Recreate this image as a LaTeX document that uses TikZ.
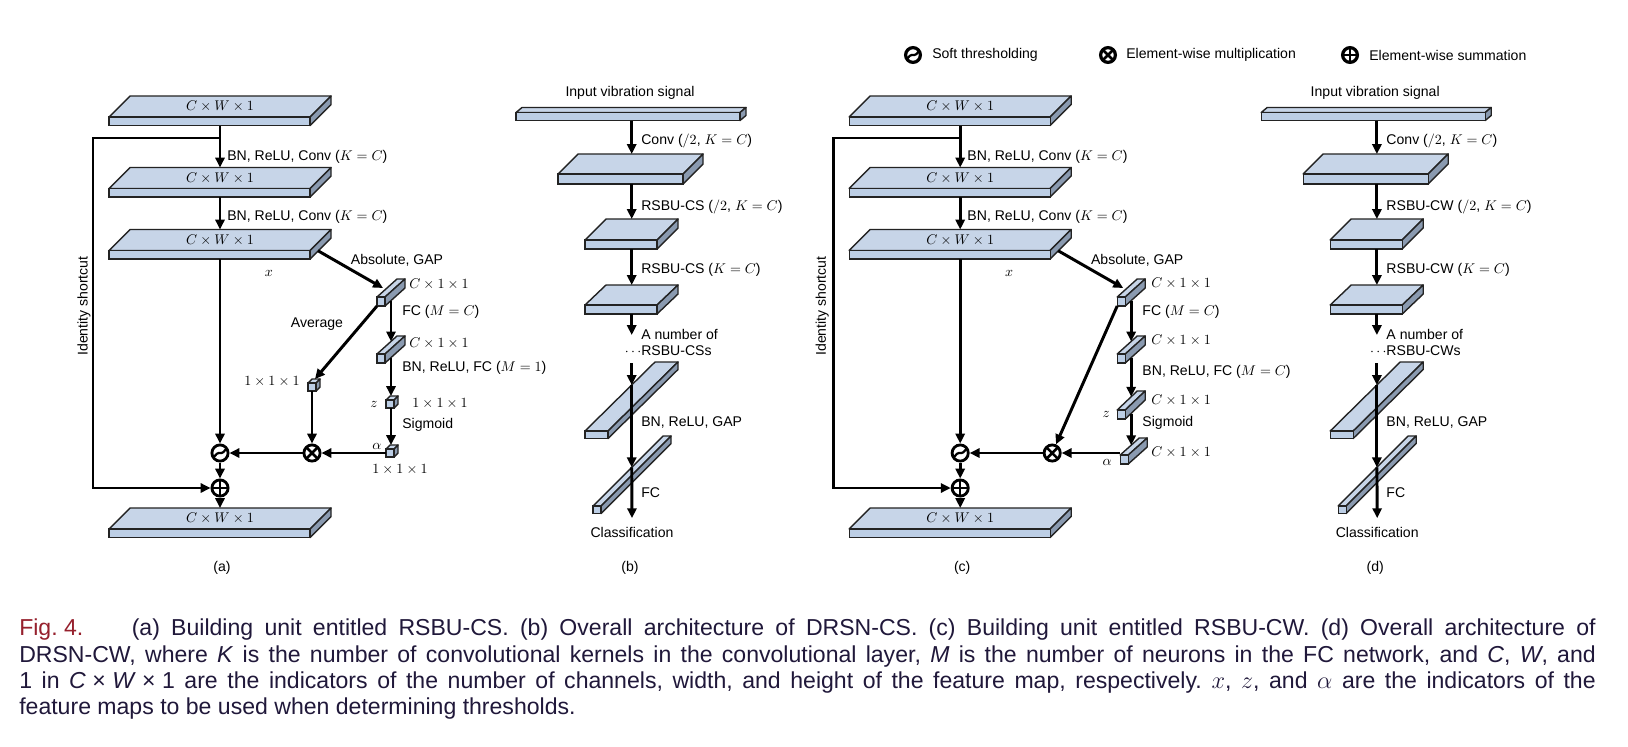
\documentclass[tikz,border=0pt]{standalone}
\usepackage{fontspec}
\setmainfont{Liberation Sans}
\newfontfamily\capfont{Liberation Sans}
\usetikzlibrary{arrows.meta,calc}

\definecolor{topc}{RGB}{199,213,232}
\definecolor{frontc}{RGB}{188,206,229}
\definecolor{sidec}{RGB}{138,154,176}
\definecolor{boxdraw}{RGB}{35,35,35}
\definecolor{capc}{RGB}{32,24,58}
\definecolor{figc}{RGB}{150,32,45}

% cuboid: name, x, y (front top left), width, height, depth x, depth y
\newcommand{\cuboid}[7]{%
  \filldraw[boxline, fill=topc] (#2,#3) -- (#2+#6,#3-#7) -- (#2+#4+#6,#3-#7) -- (#2+#4,#3) -- cycle;
  \filldraw[boxline, fill=sidec] (#2+#4,#3) -- (#2+#4+#6,#3-#7) -- (#2+#4+#6,#3+#5-#7) -- (#2+#4,#3+#5) -- cycle;
  \node[boxfront, minimum width=#4*0.025cm, minimum height=#5*0.025cm, anchor=north west] (#1) at (#2,#3) {};
  \coordinate (#1-b) at (#2+#6,#3-#7);
}

\tikzset{
  arr/.style={line width=2.1pt, -{Triangle[length=7pt,width=6.5pt]}},
  boxline/.style={draw=boxdraw, line width=1pt, line join=round},
  boxfront/.style={draw=boxdraw, fill=frontc, line width=1pt, inner sep=0pt, outer sep=0pt},
  lbl/.style={font=\fontsize{10}{12}\selectfont, inner sep=0pt},
  op/.style={circle, draw, fill=white, line width=2pt, minimum size=11.5pt, inner sep=0pt},
  opsum/.style={op, path picture={\draw[line width=1.8pt] (path picture bounding box.north) -- (path picture bounding box.south) (path picture bounding box.west) -- (path picture bounding box.east);}},
  opmul/.style={op, path picture={\draw[line width=1.8pt] (path picture bounding box.north west) -- (path picture bounding box.south east) (path picture bounding box.north east) -- (path picture bounding box.south west);}},
  opsoft/.style={op, path picture={\draw[line width=1.6pt, rounded corners=0.8pt] ([shift={(-8,6)}]path picture bounding box.center) -- ([shift={(-2.5,0)}]path picture bounding box.center) -- ([shift={(2.5,0)}]path picture bounding box.center) -- ([shift={(8,-6)}]path picture bounding box.center);}},
  capline/.style={font=\capfont\fontsize{16.4}{19}\selectfont\frenchspacing, text=capc, inner sep=0pt, anchor=base west},
}

\begin{document}
\begin{tikzpicture}[x=0.025cm, y=-0.025cm]
\useasboundingbox (0,0) rectangle (1628,746);
\fill[white] (0,0) rectangle (1628,746);

% legend
\node[opsoft, minimum size=10.5pt, line width=2.3pt] (lsoft) at (913,55) {};
\node[lbl, anchor=west] (lsoftl) at (932,55) {Soft thresholding};
\node[opmul, minimum size=10.5pt, line width=2.3pt] (lmul) at (1108,55) {};
\node[lbl, anchor=west] (lmull) at (1126,55) {Element-wise multiplication};
\node[opsum, minimum size=10.5pt, line width=2.3pt] (lsum) at (1350,55) {};
\node[lbl, anchor=west] (lsuml) at (1369,55) {Element-wise summation};

% (a) RSBU-CS
\cuboid{a1}{109}{117}{201}{8.5}{21}{21}
\cuboid{a2}{109}{188.5}{201}{8.5}{21}{21}
\cuboid{a3}{109}{250.5}{201}{8.5}{21}{21}
\cuboid{a4}{109}{529}{201}{8.5}{21}{21}
\cuboid{ab1}{377}{297}{8}{9}{20}{18}
\cuboid{ab2}{377}{354}{8}{9}{20}{18}
\cuboid{aavg}{308}{383}{8}{8}{4}{4}
\cuboid{az}{386}{400}{8}{8}{4}{4}
\cuboid{aal}{386}{449}{8}{8}{4}{4}
\node[lbl] (a1t) at (220,106.5) {$C\times W\times 1$};
\node[lbl] (a2t) at (220,178) {$C\times W\times 1$};
\node[lbl] (a3t) at (220,240) {$C\times W\times 1$};
\node[lbl] (a4t) at (220,518.5) {$C\times W\times 1$};
\node[opsoft] (asoft) at (220,453) {};
\node[opmul] (amul) at (312,453) {};
\node[opsum] (asum) at (220,488) {};
\coordinate (asplit) at (220,138);
\coordinate (asc) at (93,138);
\node[lbl, anchor=west] (aconv1) at (227,157) {BN, ReLU, Conv ($K=C$)};
\node[lbl, anchor=west] (aconv2) at (227,217) {BN, ReLU, Conv ($K=C$)};
\node[lbl] (aabs) at (397,260) {Absolute, GAP};
\node[lbl] (ax) at (269,273) {$x$};
\node[lbl, anchor=west] (ab1l) at (409,284) {$C\times 1\times 1$};
\node[lbl, anchor=west] (afc1) at (402,312) {FC ($M=C$)};
\node[lbl] (aavgl) at (317,324) {Average};
\node[lbl, anchor=west] (ab2l) at (409,343) {$C\times 1\times 1$};
\node[lbl, anchor=west] (afc2) at (402,368) {BN, ReLU, FC ($M=1$)};
\node[lbl, anchor=east] (aavgs) at (300,382) {$1\times 1\times 1$};
\node[lbl] (azl) at (374,404) {$z$};
\node[lbl, anchor=west] (azs) at (412,404) {$1\times 1\times 1$};
\node[lbl, anchor=west] (asig) at (402,425) {Sigmoid};
\node[lbl] (aall) at (377,446) {$\alpha$};
\node[lbl] (aals) at (400,470) {$1\times 1\times 1$};
\node[lbl, rotate=90] (aid) at (84,306) {Identity shortcut};
\node[lbl] (acap) at (222,568) {(a)};
\draw[arr] (asoft |- a1.south) -- (asoft |- a2-b);
\draw[arr] (asoft |- a2.south) -- (asoft |- a3-b);
\draw[arr] (asoft |- a3.south) -- (asoft);
\draw[arr] (asoft) -- (asum);
\draw[arr] (asum) -- (asoft |- a4-b);
\draw[arr] (asplit) -- (asc) |- (asum);
\draw[arr] ([shift={(8,-4)}]a3.east) -- ([shift={(6,-9)}]ab1.north west);
\draw[arr] (ab1.south west) -- ([shift={(3,0)}]aavg-b);
\draw[arr] ([shift={(6,-5.4)}]ab1.south east) -- ([shift={(14,-12.6)}]ab2.north west);
\draw[arr] ([shift={(6,-5.4)}]ab2.south east) -- ([shift={(1,0)}]az-b);
\draw[arr] (aavg) -- (amul);
\draw[arr] ([shift={(1,0)}]az.south) -- ([shift={(1,0)}]aal-b);
\draw[arr] (aal.west) -- (amul);
\draw[arr] (amul) -- (asoft);

% (b) DRSN-CS
\cuboid{bin}{516}{112.5}{224}{8}{6}{5}
\cuboid{b2}{558}{174}{125}{10}{20}{20}
\cuboid{b3}{585}{240}{72}{9}{21}{21}
\cuboid{b4}{585}{305}{72}{9}{21}{20}
\cuboid{b5}{585}{431}{23}{7.5}{70}{69}
\cuboid{b6}{593}{506}{8}{7.5}{70}{70}
\coordinate (bcol) at (631.7,0);
\coordinate (bdots1) at (631.7,335);
\coordinate (bdots2) at (631.7,363);
\node[lbl] (binl) at (630,93) {Input vibration signal};
\node[lbl, anchor=west] (bconv) at (641,141) {Conv ($/2$, $K=C$)};
\node[lbl, anchor=west] (brs1) at (641,207) {RSBU-CS ($/2$, $K=C$)};
\node[lbl, anchor=west] (brs2) at (641,270) {RSBU-CS ($K=C$)};
\node[lbl, anchor=west, align=left] (bnum) at (641,342.5) {A number of\\\llap{$\cdots$}RSBU-CSs};
\node[lbl, anchor=west] (bgap) at (641,422) {BN, ReLU, GAP};
\node[lbl, anchor=west] (bfc) at (641,493) {FC};
\node[lbl] (bcls) at (632,532) {Classification};
\node[lbl] (bcap) at (630,568) {(b)};
\draw[arr] (bcol |- bin.south) -- (bcol |- b2-b);
\draw[arr] (bcol |- b2.south) -- (bcol |- b3-b);
\draw[arr] (bcol |- b3.south) -- (bcol |- b4-b);
\draw[arr] (bcol |- b4.south) -- (bdots1);
\draw[arr] (bdots2) -- ([shift={(46.7,-46)}]b5.north west);
\draw[arr] ([shift={(46.7,-46)}]b5.north west) -- ([shift={(38.7,-38.7)}]b6.north west);
\draw[arr] ([shift={(38.7,-38.7)}]b6.north west) -- ([yshift=6pt]bcls.north);

% (c) RSBU-CW
\begin{scope}[xshift=18.5cm]
\cuboid{c1}{109}{117}{201}{8.5}{21}{21}
\cuboid{c2}{109}{188.5}{201}{8.5}{21}{21}
\cuboid{c3}{109}{250.5}{201}{8.5}{21}{21}
\cuboid{c4}{109}{529}{201}{8.5}{21}{21}
\cuboid{cb1}{377}{297}{8}{9}{20}{18}
\cuboid{cb2}{377}{354}{8}{9}{20}{18}
\cuboid{cb3}{377}{410}{8}{9}{20}{19}
\cuboid{cb4}{380}{455}{8}{9}{19}{17}
\node[lbl] (c1t) at (220,106.5) {$C\times W\times 1$};
\node[lbl] (c2t) at (220,178) {$C\times W\times 1$};
\node[lbl] (c3t) at (220,240) {$C\times W\times 1$};
\node[lbl] (c4t) at (220,518.5) {$C\times W\times 1$};
\node[opsoft] (csoft) at (220,453) {};
\node[opmul] (cmul) at (312,453) {};
\node[opsum] (csum) at (220,488) {};
\coordinate (csplit) at (220,138);
\coordinate (csc) at (93,138);
\node[lbl, anchor=west] (cconv1) at (227,157) {BN, ReLU, Conv ($K=C$)};
\node[lbl, anchor=west] (cconv2) at (227,217) {BN, ReLU, Conv ($K=C$)};
\node[lbl] (cabs) at (397,260) {Absolute, GAP};
\node[lbl] (cx) at (269,273) {$x$};
\node[lbl, anchor=west] (cb1l) at (411,283) {$C\times 1\times 1$};
\node[lbl, anchor=west] (cfc1) at (402,312) {FC ($M=C$)};
\node[lbl, anchor=west] (cb2l) at (411,340) {$C\times 1\times 1$};
\node[lbl, anchor=west] (cfc2) at (402,372) {BN, ReLU, FC ($M=C$)};
\node[lbl, anchor=west] (cb3l) at (411,400) {$C\times 1\times 1$};
\node[lbl] (czl) at (366,414) {$z$};
\node[lbl, anchor=west] (csig) at (402,423) {Sigmoid};
\node[lbl, anchor=west] (cb4l) at (411,452) {$C\times 1\times 1$};
\node[lbl] (call) at (367,462) {$\alpha$};
\node[lbl, rotate=90] (cid) at (82,306) {Identity shortcut};
\node[lbl] (ccap) at (222,568) {(c)};
\draw[arr] (csoft |- c1.south) -- (csoft |- c2-b);
\draw[arr] (csoft |- c2.south) -- (csoft |- c3-b);
\draw[arr] (csoft |- c3.south) -- (csoft);
\draw[arr] (csoft) -- (csum);
\draw[arr] (csum) -- (csoft |- c4-b);
\draw[arr] (csplit) -- (csc) |- (csum);
\draw[arr] ([shift={(8,-4)}]c3.east) -- ([shift={(6,-9)}]cb1.north west);
\draw[arr] (cb1.south west) -- (cmul);
\draw[arr] ([shift={(6,-5.4)}]cb1.south east) -- ([shift={(14,-12.6)}]cb2.north west);
\draw[arr] ([shift={(6,-5.4)}]cb2.south east) -- ([shift={(14,-13.3)}]cb3.north west);
\draw[arr] ([shift={(6,-5.4)}]cb3.south east) -- ([shift={(11,-9.8)}]cb4.north west);
\draw[arr] (cmul -| cb4.west) -- (cmul);
\draw[arr] (cmul) -- (csoft);
\end{scope}

% (d) DRSN-CW
\begin{scope}[xshift=18.625cm]
\cuboid{din}{516}{112.5}{224}{8}{6}{5}
\cuboid{d2}{558}{174}{125}{10}{20}{20}
\cuboid{d3}{585}{240}{72}{9}{21}{21}
\cuboid{d4}{585}{305}{72}{9}{21}{20}
\cuboid{d5}{585}{431}{23}{7.5}{70}{69}
\cuboid{d6}{593}{506}{8}{7.5}{70}{70}
\coordinate (dcol) at (631.7,0);
\coordinate (ddots1) at (631.7,335);
\coordinate (ddots2) at (631.7,363);
\node[lbl] (dinl) at (630,93) {Input vibration signal};
\node[lbl, anchor=west] (dconv) at (641,141) {Conv ($/2$, $K=C$)};
\node[lbl, anchor=west] (drs1) at (641,207) {RSBU-CW ($/2$, $K=C$)};
\node[lbl, anchor=west] (drs2) at (641,270) {RSBU-CW ($K=C$)};
\node[lbl, anchor=west, align=left] (dnum) at (641,342.5) {A number of\\\llap{$\cdots$}RSBU-CWs};
\node[lbl, anchor=west] (dgap) at (641,422) {BN, ReLU, GAP};
\node[lbl, anchor=west] (dfc) at (641,493) {FC};
\node[lbl] (dcls) at (632,532) {Classification};
\node[lbl] (dcap) at (630,568) {(d)};
\draw[arr] (dcol |- din.south) -- (dcol |- d2-b);
\draw[arr] (dcol |- d2.south) -- (dcol |- d3-b);
\draw[arr] (dcol |- d3.south) -- (dcol |- d4-b);
\draw[arr] (dcol |- d4.south) -- (ddots1);
\draw[arr] (ddots2) -- ([shift={(46.7,-46)}]d5.north west);
\draw[arr] ([shift={(46.7,-46)}]d5.north west) -- ([shift={(38.7,-38.7)}]d6.north west);
\draw[arr] ([shift={(38.7,-38.7)}]d6.north west) -- ([yshift=6pt]dcls.north);
\end{scope}

% caption
\node[capline] (cap1) at (19,635) {\makebox[39.4cm][s]{\textcolor{figc}{\mbox{Fig. 4.}}\hspace{2.1em}(a) Building unit entitled RSBU-CS. (b) Overall architecture of DRSN-CS. (c) Building unit entitled RSBU-CW. (d) Overall architecture of}};
\node[capline] (cap2) at (19,662) {\makebox[39.4cm][s]{DRSN-CW, where \textit{K} is the number of convolutional kernels in the convolutional layer, \textit{M} is the number of neurons in the FC network, and \textit{C}, \textit{W}, and}};
\node[capline] (cap3) at (19,688) {\makebox[39.4cm][s]{1 in \mbox{\textit{C} × \textit{W} × 1} are the indicators of the number of channels, width, and height of the feature map, respectively. $x$, $z$, and $\alpha$ are the indicators of the}};
\node[capline] (cap4) at (19,714) {feature maps to be used when determining thresholds.};
\end{tikzpicture}
\end{document}
